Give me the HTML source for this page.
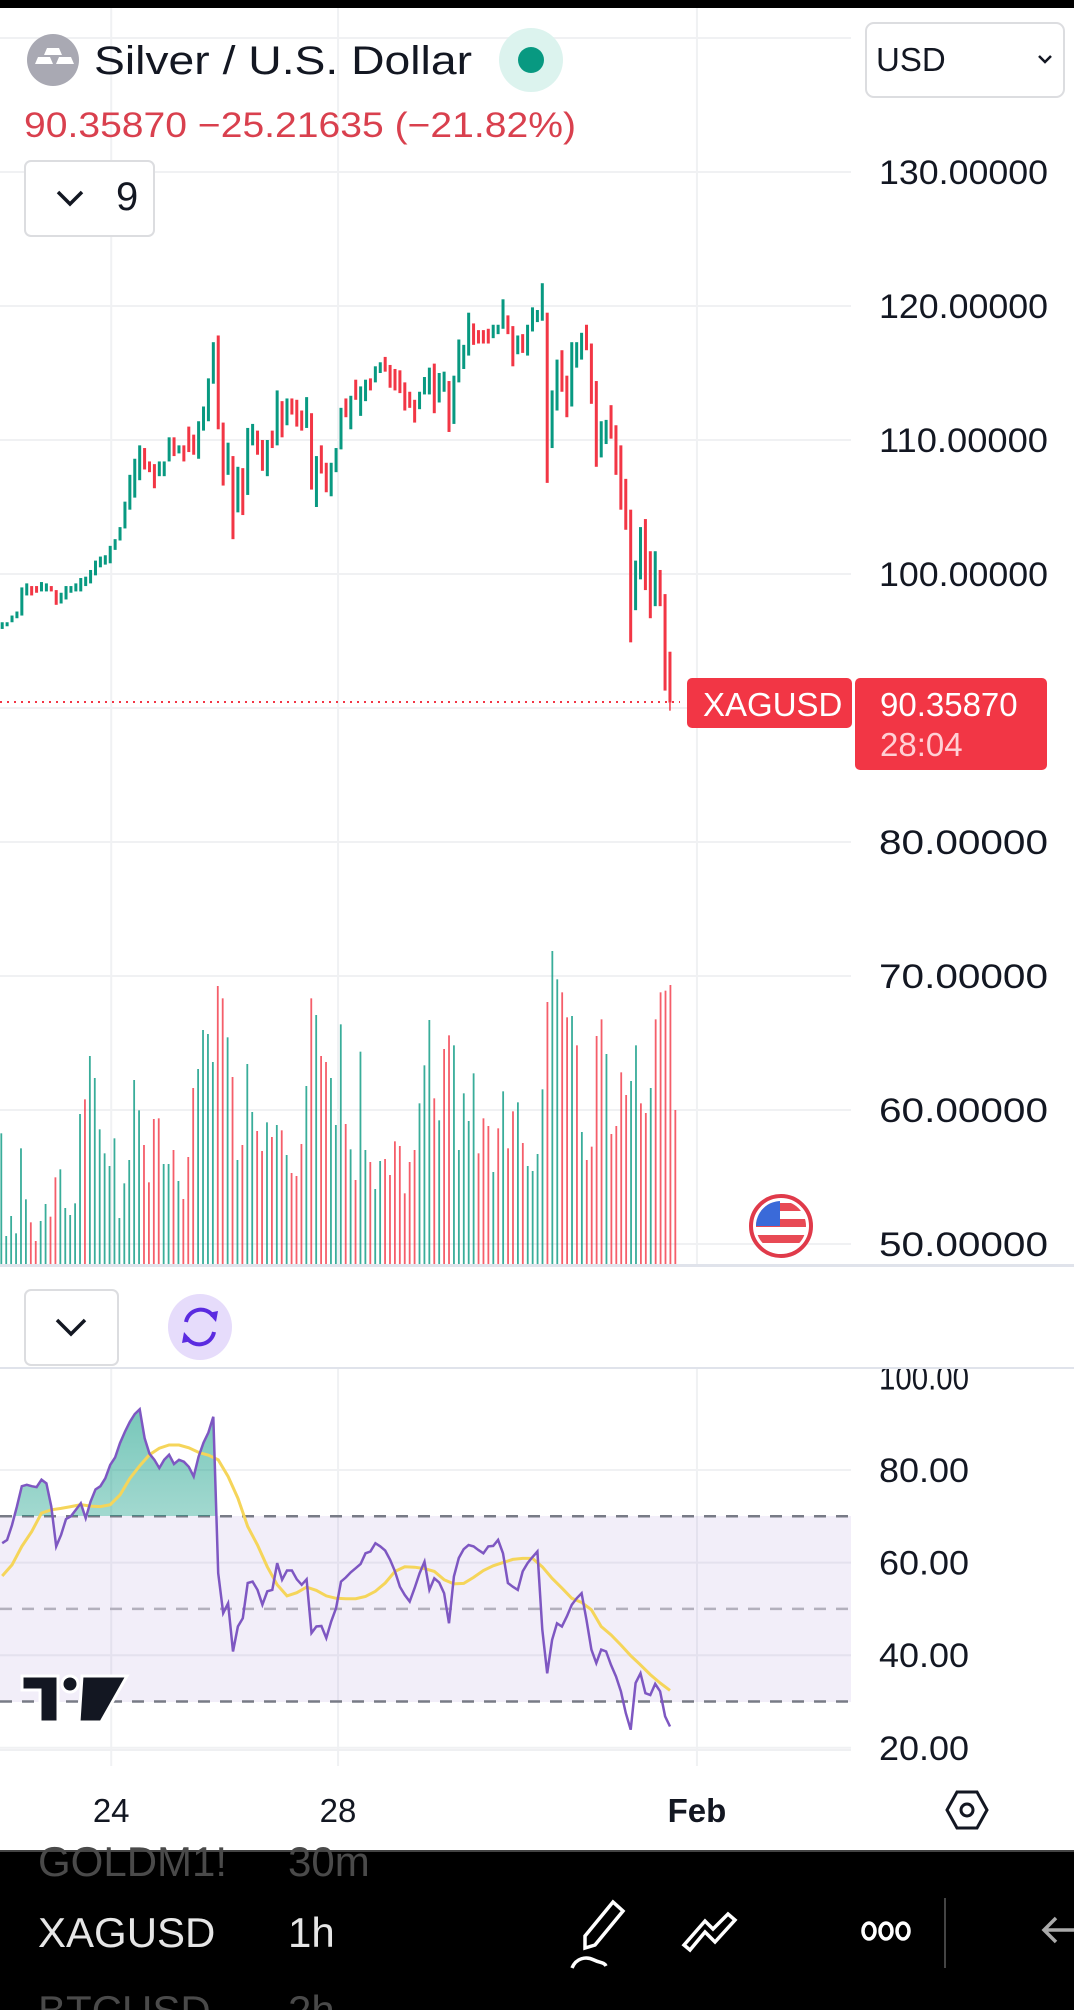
<!DOCTYPE html>
<html><head><meta charset="utf-8">
<style>
html,body{margin:0;padding:0;background:#fff;}
body{width:1074px;height:2010px;overflow:hidden;font-family:"Liberation Sans",sans-serif;}
svg text{font-family:"Liberation Sans",sans-serif;}
</style></head>
<body>
<svg id="chart" width="1074" height="2010" viewBox="0 0 1074 2010" xmlns="http://www.w3.org/2000/svg">
<defs>
<linearGradient id="gfill" x1="0" y1="0" x2="0" y2="1">
<stop offset="0" stop-color="#089981" stop-opacity="0.55"/>
<stop offset="1" stop-color="#089981" stop-opacity="0.03"/>
</linearGradient>
<clipPath id="above70"><rect x="0" y="1370" width="851" height="146"/></clipPath>
<clipPath id="plotClip"><rect x="0" y="0" width="851" height="2010"/></clipPath>
</defs>
<rect x="0" y="0" width="1074" height="2010" fill="#fff"/>
<rect x="0" y="0" width="1074" height="8" fill="#000"/>

<g id="grid"></g>

<!-- RSI band -->
<rect x="0" y="1516" width="851" height="186" fill="#7e57c2" fill-opacity="0.1"/>
<g id="rsiLevels"></g>

<g id="volumes" clip-path="url(#plotClip)"></g>
<g id="candles" clip-path="url(#plotClip)"></g>
<g id="rsi"></g>

<line x1="0" y1="702" x2="680" y2="702" stroke="#f23645" stroke-width="2" stroke-dasharray="2,5"/>

<g id="priceAxis"></g>
<g id="rsiAxis"></g>

<!-- header -->
<g>
<circle cx="53" cy="60" r="26" fill="#a9a9b3"/>
<path d="M47 48 h12 l3 7 h-18z M35 64 l3 -7 h12 l3 7z M56 64 l3 -7 h12 l3 7z" fill="#fff"/>
<text x="94" y="74" font-size="40" fill="#131722" textLength="378" lengthAdjust="spacingAndGlyphs">Silver / U.S. Dollar</text>
<ellipse cx="531" cy="60" rx="32" ry="32" fill="#dcf3ee"/>
<circle cx="531" cy="60" r="13" fill="#089981"/>
</g>
<text x="24" y="137" font-size="35" fill="#d9404e" textLength="552" lengthAdjust="spacingAndGlyphs">90.35870  −25.21635 (−21.82%)</text>
<g>
<rect x="25" y="161" width="129" height="75" rx="6" fill="#fff" stroke="#dcdde0" stroke-width="2"/>
<path d="M58 192 l12 12 l12 -12" fill="none" stroke="#131722" stroke-width="3.5"/>
<text x="116" y="210" font-size="40" fill="#131722">9</text>
</g>
<g>
<rect x="866" y="23" width="198" height="74" rx="8" fill="#fff" stroke="#dcdde0" stroke-width="2"/>
<text x="876" y="71" font-size="33" fill="#131722">USD</text>
<path d="M1039 56 l6 6 l6 -6" fill="none" stroke="#131722" stroke-width="2.5"/>
</g>

<!-- price labels -->
<g>
<rect x="687" y="678" width="165" height="50" rx="5" fill="#f23645"/>
<text x="703" y="716" font-size="33" fill="#fff">XAGUSD</text>
</g>
<g>
<rect x="855" y="678" width="192" height="92" rx="5" fill="#f23645"/>
<text x="880" y="716" font-size="33" fill="#fff">90.35870</text>
<text x="880" y="756" font-size="33" fill="#ffd0d5">28:04</text>
</g>

<g>
<circle cx="781" cy="1226" r="30" fill="#fff" stroke="#e03a4a" stroke-width="4"/>
<clipPath id="flagclip"><circle cx="781" cy="1226" r="25"/></clipPath>
<g clip-path="url(#flagclip)">
<rect x="755" y="1200" width="52" height="52" fill="#fff"/>
<rect x="755" y="1203" width="52" height="8" fill="#e84a55"/>
<rect x="755" y="1219" width="52" height="8" fill="#e84a55"/>
<rect x="755" y="1235" width="52" height="8" fill="#e84a55"/>
<rect x="755" y="1200" width="25" height="26" fill="#3a6ad9"/>
</g>
</g>

<!-- separators -->
<rect x="0" y="1264" width="1074" height="3" fill="#e0e3eb"/>
<rect x="0" y="1367" width="1074" height="2" fill="#e0e3eb"/>
<g>
<rect x="25" y="1290" width="93" height="75" rx="6" fill="#fff" stroke="#dcdde0" stroke-width="2"/>
<path d="M57 1320 l14 14 l14 -14" fill="none" stroke="#131722" stroke-width="3.5"/>
</g>
<g>
<ellipse cx="200" cy="1327" rx="32" ry="33" fill="#e6dcfb"/>
<path d="M186 1322 a15 15 0 0 1 27 -6" fill="none" stroke="#5b2be0" stroke-width="4"/>
<path d="M214 1332 a15 15 0 0 1 -27 6" fill="none" stroke="#5b2be0" stroke-width="4"/>
<path d="M208 1313 l8 9 l2 -11z M192 1341 l-8 -9 l-2 11z" fill="#5b2be0"/>
</g>

<!-- tv logo -->
<g>
<path d="M22 1676 h36 v46 h-18 v-32 h-18z" fill="#131722" stroke="#fff" stroke-width="3"/>
<circle cx="70" cy="1684" r="8" fill="#131722" stroke="#fff" stroke-width="3"/>
<path d="M82 1676 h45 l-26 46 h-22z" fill="#131722" stroke="#fff" stroke-width="3"/>
</g>

<!-- time axis -->
<rect x="0" y="1749" width="851" height="2" fill="#eff0f2"/>
<g id="timeAxis"></g>
<g>
<path d="M957 1792 h20 l10 18 l-10 18 h-20 l-10 -18z" fill="none" stroke="#131722" stroke-width="3"/>
<circle cx="967" cy="1810" r="6" fill="none" stroke="#131722" stroke-width="3"/>
</g>

<!-- bottom bar -->
<rect x="0" y="1850" width="1074" height="160" fill="#000"/>
<rect x="0" y="1850" width="1074" height="2" fill="#444"/>
<text x="38" y="1876" font-size="42" fill="#4a4a4a">GOLDM1!</text>
<text x="288" y="1876" font-size="42" fill="#4a4a4a">30m</text>
<text x="38" y="1947" font-size="42" fill="#e6e6e6">XAGUSD</text>
<text x="288" y="1947" font-size="42" fill="#e6e6e6">1h</text>
<text x="38" y="2025" font-size="42" fill="#4a4a4a">BTCUSD</text>
<text x="288" y="2025" font-size="42" fill="#4a4a4a">2h</text>
<g fill="none" stroke="#fff" stroke-width="3.5">
<path d="M585 1948 l0 -12 l28 -34 l10 9 l-28 34 z"/>
<path d="M572 1968 c4 -10 14 -12 22 -8 c6 3 10 2 12 6"/>
</g>
<g fill="none" stroke="#fff" stroke-width="3.5">
<path d="M690 1950 l15 -18 l10 10 l20 -22 l-7 -6 l-15 15 l-8 -8 l-21 24z"/>
</g>
<g fill="none" stroke="#fff" stroke-width="3.5">
<ellipse cx="869" cy="1931" rx="6" ry="8"/><ellipse cx="886" cy="1931" rx="6" ry="8"/><ellipse cx="903" cy="1931" rx="6" ry="8"/>
</g>
<rect x="944" y="1898" width="2" height="70" fill="#444"/>
<path d="M1074 1930 h-28 m10 -12 l-12 12 l12 12" fill="none" stroke="#aaa" stroke-width="3.5"/>
</svg>

<script>
// ===== Price data (hourly candles) =====
const opens = [95.9,96.1,96.4,96.7,96.9,98.4,99.1,99.1,98.7,98.7,99.1,98.8,97.8,98.1,98.6,98.7,98.7,99.1,99.3,99.9,100.5,100.7,100.8,101.8,102.5,103.4,104.8,105.7,107.0,109.4,108.4,108.2,107.3,107.3,108.4,110.2,109.0,109.6,111.0,110.4,108.6,110.7,111.4,114.2,117.8,111.3,107.4,108.8,104.6,107.9,105.9,109.6,110.7,110.0,107.3,110.7,109.6,112.9,111.1,113.1,113.0,112.2,110.9,112.0,105.0,109.6,108.3,105.8,107.6,109.3,113.1,110.8,114.5,111.8,112.9,114.6,114.3,115.0,116.2,115.6,115.3,115.2,114.3,113.6,113.0,112.3,113.4,113.4,115.7,112.8,113.6,114.4,111.2,114.3,115.3,116.3,118.7,118.2,118.2,118.3,117.6,117.9,118.3,119.3,118.5,116.4,117.9,116.3,118.1,118.8,118.9,119.5,109.4,112.2,116.7,114.8,112.5,115.4,116.0,118.6,117.2,114.4,108.7,109.7,112.6,111.1,109.6,107.1,104.8,97.3,99.6,104.1,101.7,97.6,100.3,98.5,94.2];
const closes = [96.4,96.4,96.9,97.2,99.0,99.3,98.4,98.6,99.4,99.3,98.7,97.7,98.6,99.1,99.1,99.3,99.7,99.8,100.3,101.0,101.3,101.4,102.1,102.6,103.5,105.4,107.4,108.6,109.6,107.8,107.6,106.4,108.4,108.4,110.2,108.8,109.6,108.4,109.1,108.9,111.4,112.5,114.6,117.3,110.8,106.6,109.8,102.6,108.0,104.4,110.9,111.2,108.9,107.7,110.0,109.4,113.7,110.2,113.1,111.9,111.0,110.7,113.2,106.3,108.8,107.5,106.1,108.3,109.4,112.4,111.7,113.3,113.0,114.0,114.5,113.7,115.5,115.8,115.1,113.9,113.7,113.5,112.2,112.4,111.3,113.6,114.7,115.4,112.0,115.0,115.1,110.6,114.8,117.5,117.1,119.5,117.1,117.2,117.2,117.2,118.6,118.6,120.5,117.9,115.5,117.8,116.5,118.6,119.9,119.7,121.7,106.8,113.7,116.0,113.6,111.7,117.3,117.3,118.0,116.7,112.7,108.0,111.4,111.5,110.1,107.4,104.8,103.3,94.9,101.0,103.5,98.8,96.7,101.7,97.6,91.3,90.4];
const lastLow = 89.8;
// ===== Volume data =====
const volumes = [392,84,144,92,347,194,125,69,129,180,142,260,284,168,147,182,450,494,624,558,404,332,294,377,138,242,312,552,461,357,245,435,437,300,300,342,249,195,321,528,585,702,690,606,834,797,680,561,312,357,600,456,399,339,425,381,417,401,327,273,264,360,534,797,747,624,606,558,417,719,420,344,252,637,342,306,225,309,315,267,368,354,212,306,342,482,596,732,497,431,645,686,656,342,512,429,572,332,437,414,276,407,518,347,458,485,363,294,279,330,524,786,939,854,815,740,744,656,396,312,352,684,734,630,390,414,575,507,549,656,482,453,528,734,815,820,837,462];
const volDir = "grrrgrrrrrrrgrrrgrgggrrrrrrrrrrrrrrrrrgrrgrrrrrrrgrrrrrrrrrrgrrrgrggrrrrrrrrrrrrgrrrrrrrgrrrrrrrrgrrrgggrrrrgggrrgrrrrrrrgrrrrgrrrrrrrrrrrrr";
const volColorsRaw = ["g","g","g","g","g","g","r","r","g","g","r","r","g","g","g","g","g","r","g","g","g","g","g","g","g","g","g","g","g","r","r","r","r","g","g","r","g","r","r","r","g","g","g","g","r","r","g","r","g","r","g","g","r","r","g","r","g","r","g","r","r","r","g","r","g","r","r","g","g","g","r","g","r","g","g","r","g","g","r","r","r","r","r","r","r","g","g","g","r","g","r","r","g","g","g","g","g","r","r","r","g","r","g","r","r","g","r","g","g","g","g","r","g","g","r","r","g","r","g","r","r","r","r","g","r","r","r","r","g","g","r","r","g","r","r","r"];
// ===== RSI data =====
const rsiValues = [64.2,64.9,68.1,72.1,76.5,76.8,76.5,76.3,77.9,77.1,72.1,63.5,66.0,69.4,70.0,71.4,72.8,69.6,73.2,75.8,76.5,78.2,81.1,82.7,85.8,88.3,90.4,92.1,93.1,86.9,83.5,82.2,80.4,82.2,83.3,81.3,82.2,81.8,80.7,78.6,82.9,85.9,88.1,91.5,57.7,49.1,51.2,40.8,46.2,48.0,55.6,55.9,54.1,50.9,53.8,54.1,59.9,56.3,58.3,58.3,56.4,55.2,56.4,44.8,46.2,46.3,43.7,47.3,50.2,55.9,56.8,57.9,58.8,59.7,62.0,62.4,64.2,63.5,62.6,60.6,58.1,54.8,53.0,51.6,54.5,57.7,60.2,54.1,56.6,55.7,53.4,46.9,57.0,61.0,62.9,63.8,63.5,62.7,62.0,63.5,63.6,64.9,62.0,55.6,54.8,54.1,58.1,59.9,61.2,62.4,45.5,36.1,43.3,46.9,46.2,48.4,50.9,52.3,53.4,47.6,41.2,38.3,41.2,40.8,37.9,35.4,32.2,27.5,23.9,34.0,36.1,31.8,31.4,33.8,32.2,26.8,24.6];
const rsiMA = [57.1,59.5,63.5,66.7,70.7,71.4,71.7,72.1,72.5,72.2,72.1,72.5,74.6,78.2,80.9,83.3,84.7,85.4,85.4,84.8,83.8,83.2,82.2,78.6,73.9,67.8,63.8,59.1,55.2,52.8,53.5,54.7,54.0,52.8,52.3,52.2,52.2,52.7,53.8,55.6,58.1,59.1,59.0,58.7,58.1,56.3,55.4,55.5,56.8,58.3,59.3,60.0,60.7,60.9,60.9,59.1,56.6,54.5,52.3,51.4,49.8,46.2,44.4,42.2,39.9,37.9,35.8,34.0,32.4];
// ===== Axis labels =====
const priceTicks = [140,130,120,110,100,90,80,70,60,50];
const priceTickLabels = ["","130.00000","120.00000","110.00000","100.00000","","80.00000","70.00000","60.00000","50.00000"];
const rsiTicks = [100,80,60,40,20];
const rsiTickLabels = ["100.00","80.00","60.00","40.00","20.00"];
const rsiLevels = [70,50,30];
const timeLabels = ["24","28","Feb"];
const timeIdx = [22.2,68.4,141.5];

const NS = "http://www.w3.org/2000/svg";
function mk(tag, attrs, parent){const e=document.createElementNS(NS,tag);for(const k in attrs)e.setAttribute(k,attrs[k]);parent.appendChild(e);return e;}
// scales
function yPrice(p){return 172+(130-p)*13.4;}
function yRsi(r){return 1470+(80-r)*4.63;}
function xCandle(i){return 2.2+i*4.91;}
function xVol(i){return 1.3+i*4.92;}
function yVol(v){return 1264-v/3;}
const GREEN="#089981", RED="#f23645";

// grid
const grid=document.getElementById('grid');
priceTicks.forEach(function(p){
  const l=mk('line',{x1:0,x2:851,y1:yPrice(p),y2:yPrice(p),stroke:'#f0f1f3','stroke-width':2},grid);
  
  
});
rsiTicks.forEach(function(r){
  if(r===100) return;
  const l=mk('line',{x1:0,x2:851,y1:yRsi(r),y2:yRsi(r),stroke:'#f0f1f3','stroke-width':2},grid);
  
  
});
timeIdx.forEach(function(t){
  const x=xCandle(t);
  [[8,1264],[1369,1766]].forEach(function(s){
    const l=mk('line',{x1:x,x2:x,y1:s[0],y2:s[1],stroke:'#f0f1f3','stroke-width':2},grid);
    
    
  });
});

// price axis
const pa=document.getElementById('priceAxis');
priceTicks.forEach(function(p,i){
  if(!priceTickLabels[i]) return;
  const t=mk('text',{x:879,y:yPrice(p)+12,'font-size':34,fill:'#131722',textLength:169,lengthAdjust:'spacingAndGlyphs'},pa);
  t.textContent=priceTickLabels[i];
  
  
});

// volumes
const vg=document.getElementById('volumes');
volumes.forEach(function(v,i){
  const x=xVol(i);
  const c=volColorsRaw[i]==='g'?GREEN:RED;
  const r=mk('rect',{x:x-0.9,y:yVol(v),width:1.8,height:1264-yVol(v),fill:c,'fill-opacity':0.8},vg);
  
  
});

// candles
const cg=document.getElementById('candles');
opens.forEach(function(o,i){
  const c=closes[i];
  const x=xCandle(i);
  const up=c>=o;
  const top=yPrice(Math.max(o,c)), bot=yPrice(Math.min(o,c));
  const r=mk('rect',{x:x-1.5,y:top,width:3,height:Math.max(1.5,bot-top),fill:up?GREEN:RED},cg);
  
  
  if(i===opens.length-1){
    const w=mk('line',{x1:x,x2:x,y1:bot,y2:yPrice(lastLow),stroke:RED,'stroke-width':1.5},cg);
    
    
  }
});

// rsi levels
const rl=document.getElementById('rsiLevels');
rsiLevels.forEach(function(r){
  const l=mk('line',{x1:0,x2:851,y1:yRsi(r),y2:yRsi(r),stroke:r===50?'#b3b0bd':'#787b86','stroke-width':2.5,'stroke-dasharray':'12,10'},rl);
  
  
});

// rsi axis
const ra=document.getElementById('rsiAxis');
rsiTicks.forEach(function(r,i){
  const t=mk('text',{x:879,y:yRsi(r)+12,'font-size':34,fill:'#131722',textLength:90,lengthAdjust:'spacingAndGlyphs'},ra);
  t.textContent=rsiTickLabels[i];
  
  
});
// cover RSI 100 label top (clipped under separator)
mk('rect',{x:860,y:1358,width:214,height:11,fill:'#fff'},ra);
mk('rect',{x:860,y:1367,width:214,height:2,fill:'#e0e3eb'},ra);

// rsi line
const rg=document.getElementById('rsi');
let d='';
rsiValues.forEach(function(v,i){d+=(i?'L':'M')+xCandle(i).toFixed(1)+' '+yRsi(v).toFixed(1);});
const fillD=d+'L'+xCandle(rsiValues.length-1)+' '+yRsi(70)+'L'+xCandle(0)+' '+yRsi(70)+'Z';
const f=mk('path',{d:fillD,fill:'url(#gfill)','clip-path':'url(#above70)'},rg);


let md='';
rsiMA.forEach(function(v,i){md+=(i?'L':'M')+xCandle(i*2).toFixed(1)+' '+yRsi(v).toFixed(1);});
const ma=mk('path',{d:md,fill:'none',stroke:'#f5d55a','stroke-width':3},rg);


const rp=mk('path',{d:d,fill:'none',stroke:'#7e57c2','stroke-width':2.5},rg);



// time axis
const ta=document.getElementById('timeAxis');
timeLabels.forEach(function(s,i){
  const t=mk('text',{x:xCandle(timeIdx[i]),y:1822,'font-size':33,fill:'#131722','text-anchor':'middle','font-weight':s==='Feb'?'bold':'normal'},ta);
  t.textContent=s;
  
  
});
</script>
</body></html>
